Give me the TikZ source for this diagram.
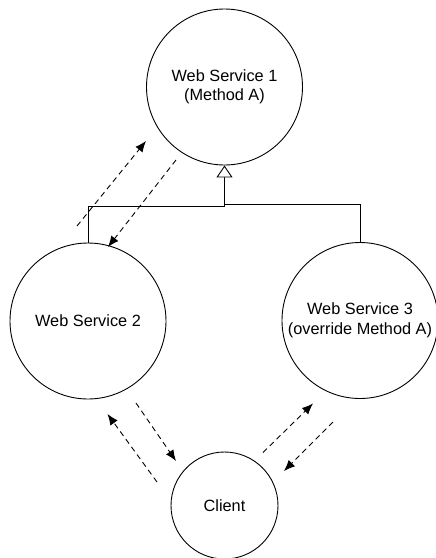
\documentclass[tikz,border=0pt]{standalone}
\usepackage{fontspec}
\setmainfont{Liberation Sans}
\usetikzlibrary{arrows.meta}
\begin{document}
\begin{tikzpicture}[x=1pt,y=-1pt,
  svc/.style={draw=black,line width=0.9pt,circle,inner sep=0pt,minimum size=156pt,align=center,font=\fontsize{16.3}{19.5}\selectfont},
  client/.style={svc,minimum size=107pt},
  msg/.style={draw=black,line width=0.9pt,dash pattern=on 5.5pt off 4pt,-{Latex[length=11pt,width=9pt]}},
  inherit/.style={draw=black,line width=0.9pt}]
\useasboundingbox (0,0) rectangle (436,558);
\clip (0,0) rectangle (436,558);
\fill[white] (0,0) rectangle (436,558);

\node[svc] (ws1) at (224.5,87) {Web Service 1\\(Method A)};
\node[svc] (ws2) at (88,321) {Web Service 2};
\node[svc] (ws3) at (360,320.5) {Web Service 3\\(override Method A)};
\node[client] (cl) at (224.5,505.5) {Client};

% inheritance
\coordinate (tb) at (224.5,177);
\coordinate (jr) at (224.5,204);
\coordinate (jl) at (224.5,206);
\draw[inherit] (ws3.north) |- (jr) -- (tb);
\draw[inherit,-{Triangle[open,length=12pt,width=16pt,fill=white]}] (ws2.north) |- (jl) -- (ws1.south);

% messages WS1 <-> WS2
\coordinate (a1) at (77,226);   \coordinate (a2) at (146,141);
\coordinate (b1) at (176,160);  \coordinate (b2) at (108,247);
\draw[msg] (a1) -- (a2);
\draw[msg] (b1) -- (b2);

% messages WS2 <-> Client
\coordinate (c1) at (157,482);  \coordinate (c2) at (107.5,414);
\coordinate (d1) at (136,403);  \coordinate (d2) at (176,461);
\draw[msg] (c1) -- (c2);
\draw[msg] (d1) -- (d2);

% messages Client <-> WS3
\coordinate (e1) at (263,452.5); \coordinate (e2) at (313,403.5);
\coordinate (f1) at (333,422);   \coordinate (f2) at (284,471);
\draw[msg] (e1) -- (e2);
\draw[msg] (f1) -- (f2);
\end{tikzpicture}
\end{document}
